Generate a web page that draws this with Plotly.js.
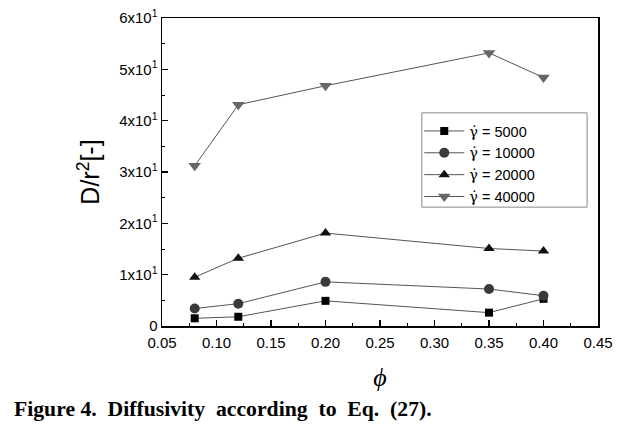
<!DOCTYPE html>
<html>
<head>
<meta charset="utf-8">
<script src="https://cdn.plot.ly/plotly-3.0.1.min.js"></script>
<style>html,body{margin:0;padding:0;background:#fff;}#chart{width:632px;height:431px;}</style>
</head>
<body>
<div id="chart"></div>
<script>
const phi = [0.08, 0.12, 0.20, 0.35, 0.40];
const shearRates = ["5000", "10000", "20000", "40000"];
const d5000 = [1.5, 1.8, 4.9, 2.6, 5.3];
const d10000 = [3.4, 4.35, 8.6, 7.2, 5.9];
const d20000 = [9.5, 13.2, 18.1, 15.1, 14.6];
const d40000 = [31.2, 43.1, 46.8, 53.2, 48.4];
const yTickVals = [0, 10, 20, 30, 40, 50, 60];
const yTickText = ["0", "1x10<sup>1</sup>", "2x10<sup>1</sup>", "3x10<sup>1</sup>", "4x10<sup>1</sup>", "5x10<sup>1</sup>", "6x10<sup>1</sup>"];
const xTickVals = [0.05, 0.10, 0.15, 0.20, 0.25, 0.30, 0.35, 0.40, 0.45];
const xTickText = ["0.05", "0.10", "0.15", "0.20", "0.25", "0.30", "0.35", "0.40", "0.45"];

const values = [d5000, d10000, d20000, d40000];
const symbols = ["square", "circle", "triangle-up", "triangle-down"];
const colors = ["#000000", "#3a3a3a", "#111111", "#666666"];
const sizes = [8, 10, 10, 11];

const traces = values.map((v, i) => ({
  x: phi, y: v,
  name: '<span style="font-family:DejaVu Serif">γ̇</span> = ' + shearRates[i],
  type: "scatter", mode: "lines+markers",
  line: {color: "#555555", width: 1},
  marker: {symbol: symbols[i], color: colors[i], size: sizes[i], line: {width: 0}}
}));

const layout = {
  width: 632, height: 431,
  margin: {l: 162, r: 34, t: 18, b: 105},
  paper_bgcolor: "#fff", plot_bgcolor: "#fff",
  font: {family: "Liberation Sans, Arial, sans-serif", color: "#000"},
  showlegend: true,
  legend: {x: 0.59, y: 0.685, xanchor: "left", yanchor: "top",
    bgcolor: "rgba(0,0,0,0)", borderwidth: 0, itemwidth: 40,
    font: {size: 14.5, family: "Liberation Sans, Arial, sans-serif"}, tracegroupgap: 0},
  shapes: [{type: "rect", xref: "paper", yref: "paper",
    x0: 0.596, x1: 0.975, y0: 0.386, y1: 0.692,
    line: {color: "#888", width: 1}, fillcolor: "rgba(255,255,255,0)", layer: "above"}],
  xaxis: {range: [0.05, 0.45], tickvals: xTickVals, ticktext: xTickText,
    ticks: "inside", ticklen: 6, tickwidth: 1.5, tickcolor: "#000", ticklabelstandoff: 2,
    showline: true, linecolor: "#000", linewidth: 1.5, mirror: true, showgrid: false, zeroline: false,
    tickfont: {size: 15}, minor: {dtick: 0.025, tick0: 0.05, ticks: "inside", ticklen: 3, tickcolor: "#000", tickwidth: 1},
    title: {text: "<i>ϕ</i>", font: {size: 26, family: "Liberation Serif, Times New Roman, serif"}, standoff: 18}},
  yaxis: {range: [0, 60], tickvals: yTickVals, ticktext: yTickText,
    ticks: "inside", ticklen: 6, tickwidth: 1.5, tickcolor: "#000",
    showline: true, linecolor: "#000", linewidth: 1.5, mirror: true, showgrid: false, zeroline: false,
    tickfont: {size: 15}, minor: {dtick: 5, ticks: "inside", ticklen: 3, tickcolor: "#000", tickwidth: 1},
    title: {text: "D/r<sup>2</sup>[-]", font: {size: 25}, standoff: 12}},
  annotations: [{
    text: "<b>Figure&nbsp;4.&nbsp; Diffusivity&nbsp; according&nbsp; to&nbsp; Eq.&nbsp; (27).</b>",
    xref: "paper", yref: "paper", x: -0.344, y: -0.27, xanchor: "left", yanchor: "middle",
    showarrow: false, font: {size: 21.7, family: "Liberation Serif, Times New Roman, serif"}
  }]
};

Plotly.newPlot("chart", traces, layout, {displayModeBar: false, staticPlot: true});
</script>
</body>
</html>
